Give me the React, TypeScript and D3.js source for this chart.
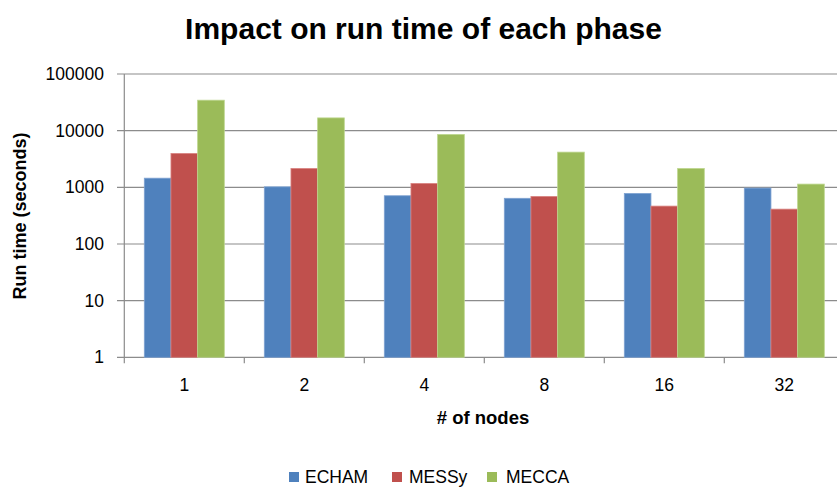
import React from "react";
import * as d3 from "d3";

const categories = ["1", "2", "4", "8", "16", "32"];
const seriesNames = ["ECHAM", "MESSy", "MECCA"];
const echam = [1450, 1020, 710, 640, 780, 970];
const messy = [3960, 2150, 1170, 690, 466, 412];
const mecca = [34500, 16800, 8570, 4180, 2150, 1140];
const yTicks = [1, 10, 100, 1000, 10000, 100000];
const colors = ["#4F81BD", "#C0504D", "#9BBB59"];
const strokes = ["#7FA3D2", "#D98380", "#BDD68E"];

const W = 837;
const H = 488;
const left = 124.3;
const right = 844.3;
const top = 74;
const bottom = 357.3;
const font = "'Liberation Sans', Arial, sans-serif";

export default function App() {
  const x = d3.scaleBand<string>().domain(categories).range([left, right]).paddingInner(0).paddingOuter(0);
  const inner = d3.scaleBand<string>().domain(seriesNames).range([20, x.bandwidth() - 20]);
  const y = d3.scaleLog().domain([1, 100000]).range([bottom, top]);
  const data = [echam, messy, mecca];
  const legendX = [289, 392, 487];
  const legendTextX = [305, 409, 506];

  return (
    <svg width={W} height={H} style={{ position: "absolute", left: 0, top: 0, background: "#fff" }}>
      <rect x={0} y={0} width={W} height={H} fill="#fff" />
      <text x={423.5} y={39} textAnchor="middle" fontFamily={font} fontWeight="bold" fontSize={30} fill="#000">
        Impact on run time of each phase
      </text>
      {yTicks.map((t) => (
        <g key={t}>
          <line x1={117} x2={right} y1={y(t)} y2={y(t)} stroke="#8C8C8C" strokeWidth={1.2} />
          <text x={104} y={y(t) + 6} textAnchor="end" fontFamily={font} fontSize={17.5} fill="#000">
            {t}
          </text>
        </g>
      ))}
      <line x1={left} x2={left} y1={top} y2={bottom} stroke="#8C8C8C" strokeWidth={1.2} />
      {categories.map((c) => (
        <line key={"t" + c} x1={x(c)!} x2={x(c)!} y1={bottom} y2={bottom + 6} stroke="#8C8C8C" strokeWidth={1.2} />
      ))}
      <line x1={right} x2={right} y1={bottom} y2={bottom + 6} stroke="#8C8C8C" strokeWidth={1.2} />
      {data.map((vals, s) =>
        vals.map((v, i) => {
          const bx = x(categories[i])! + inner(seriesNames[s])!;
          const by = y(v);
          return (
            <rect
              key={s + "-" + i}
              x={bx}
              y={by}
              width={inner.bandwidth()}
              height={bottom - by}
              fill={colors[s]}
              stroke={strokes[s]}
              strokeWidth={0.8}
            />
          );
        })
      )}
      {categories.map((c) => (
        <text key={"l" + c} x={x(c)! + x.bandwidth() / 2} y={391} textAnchor="middle" fontFamily={font} fontSize={17.5} fill="#000">
          {c}
        </text>
      ))}
      <text x={483} y={424} textAnchor="middle" fontFamily={font} fontWeight="bold" fontSize={18.5} fill="#000">
        # of nodes
      </text>
      <text
        transform={`translate(26, 216) rotate(-90)`}
        textAnchor="middle"
        fontFamily={font}
        fontWeight="bold"
        fontSize={18}
        fill="#000"
      >
        Run time (seconds)
      </text>
      {seriesNames.map((n, i) => (
        <g key={n}>
          <rect x={legendX[i]} y={472} width={10} height={10} fill={colors[i]} />
          <text x={legendTextX[i]} y={483} fontFamily={font} fontSize={17.5} fill="#000">
            {n}
          </text>
        </g>
      ))}
    </svg>
  );
}
